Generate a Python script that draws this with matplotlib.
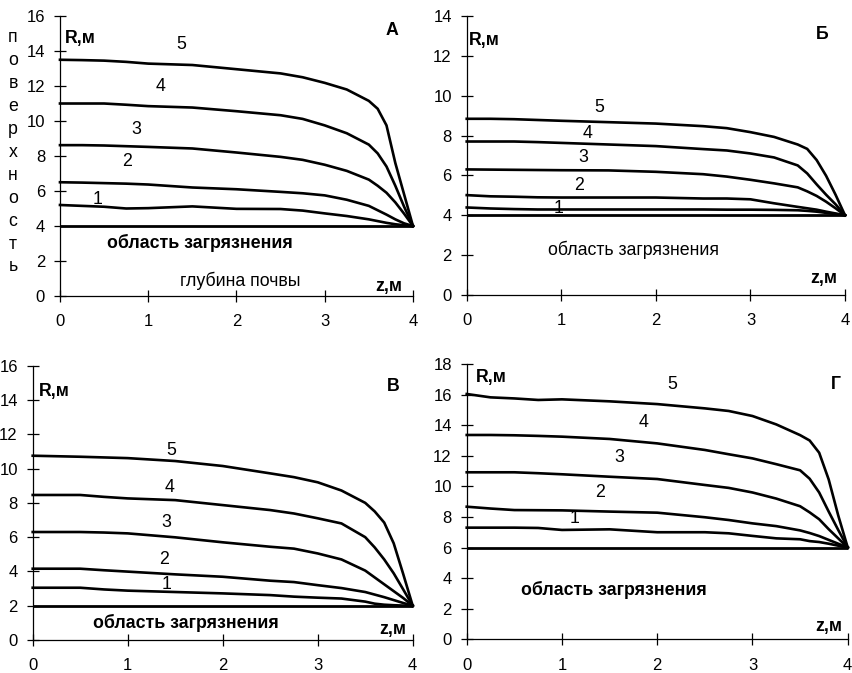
import matplotlib
matplotlib.use("Agg")
import matplotlib.pyplot as plt

plt.rcParams['font.family'] = ['Liberation Sans', 'DejaVu Sans']

# depth grid, m
z = [0, 0.25, 0.5, 0.75, 1.0, 1.5, 2.0, 2.5, 2.75, 3.0, 3.25, 3.5, 3.6, 3.7, 3.8, 3.9, 4.0]

# panel А: contamination boundary radius R(z), curves 1..5
a_base = 4
a_r1 = [5.2, 5.15, 5.1, 5.0, 5.02, 5.12, 4.98, 4.97, 4.88, 4.72, 4.57, 4.38, 4.28, 4.18, 4.1, 4.04, 4.0]
a_r2 = [6.5, 6.48, 6.45, 6.42, 6.37, 6.2, 6.1, 5.95, 5.87, 5.75, 5.5, 5.15, 4.9, 4.65, 4.38, 4.15, 4.0]
a_r3 = [8.62, 8.62, 8.6, 8.56, 8.52, 8.43, 8.2, 7.95, 7.78, 7.5, 7.15, 6.65, 6.3, 5.9, 5.35, 4.7, 4.0]
a_r4 = [11.0, 11.0, 11.0, 10.93, 10.85, 10.77, 10.56, 10.33, 10.12, 9.75, 9.3, 8.65, 8.15, 7.4, 6.3, 5.1, 4.0]
a_r5 = [13.5, 13.48, 13.45, 13.38, 13.28, 13.2, 12.96, 12.72, 12.5, 12.18, 11.8, 11.15, 10.7, 9.75, 7.6, 5.8, 4.0]

# panel Б
b_base = 4
b_r1 = [4.39, 4.34, 4.31, 4.29, 4.29, 4.29, 4.29, 4.29, 4.28, 4.28, 4.27, 4.25, 4.22, 4.18, 4.12, 4.06, 4.0]
b_r2 = [5.01, 4.95, 4.93, 4.9, 4.89, 4.89, 4.89, 4.84, 4.84, 4.8, 4.6, 4.42, 4.35, 4.28, 4.18, 4.09, 4.0]
b_r3 = [6.3, 6.29, 6.28, 6.27, 6.26, 6.25, 6.18, 6.06, 5.94, 5.78, 5.6, 5.4, 5.2, 4.97, 4.68, 4.35, 4.0]
b_r4 = [7.7, 7.7, 7.7, 7.67, 7.63, 7.55, 7.47, 7.32, 7.25, 7.1, 6.9, 6.5, 6.1, 5.55, 5.03, 4.55, 4.0]
b_r5 = [8.84, 8.84, 8.82, 8.78, 8.74, 8.67, 8.6, 8.47, 8.37, 8.17, 7.93, 7.55, 7.33, 6.77, 5.98, 5.03, 4.0]

# panel В
v_base = 2
v_r1 = [3.05, 3.05, 3.05, 2.95, 2.88, 2.8, 2.72, 2.62, 2.53, 2.47, 2.42, 2.24, 2.12, 2.06, 2.03, 2.01, 2.0]
v_r2 = [4.16, 4.16, 4.16, 4.07, 3.99, 3.83, 3.69, 3.46, 3.38, 3.2, 3.03, 2.8, 2.65, 2.5, 2.33, 2.16, 2.0]
v_r3 = [6.3, 6.3, 6.3, 6.27, 6.22, 5.99, 5.7, 5.44, 5.33, 5.05, 4.7, 4.05, 3.65, 3.25, 2.85, 2.45, 2.0]
v_r4 = [8.46, 8.46, 8.46, 8.35, 8.26, 8.16, 7.87, 7.58, 7.38, 7.1, 6.8, 6.0, 5.4, 4.7, 3.89, 2.95, 2.0]
v_r5 = [10.75, 10.72, 10.69, 10.65, 10.61, 10.44, 10.15, 9.72, 9.5, 9.2, 8.72, 8.0, 7.5, 6.85, 5.64, 3.85, 2.0]

# panel Г
g_base = 6
g_r1 = [7.3, 7.3, 7.3, 7.28, 7.15, 7.19, 7.0, 7.0, 6.93, 6.76, 6.6, 6.54, 6.42, 6.36, 6.25, 6.12, 6.0]
g_r2 = [8.67, 8.55, 8.45, 8.44, 8.43, 8.35, 8.28, 7.98, 7.8, 7.58, 7.4, 7.12, 6.95, 6.75, 6.5, 6.25, 6.0]
g_r3 = [10.92, 10.92, 10.92, 10.86, 10.79, 10.63, 10.48, 10.09, 9.9, 9.6, 9.2, 8.7, 8.3, 7.85, 7.2, 6.6, 6.0]
g_r4 = [13.36, 13.36, 13.34, 13.3, 13.25, 13.1, 12.81, 12.38, 12.1, 11.83, 11.45, 11.05, 10.5, 9.6, 8.35, 7.15, 6.0]
g_r5 = [16.04, 15.82, 15.75, 15.65, 15.69, 15.56, 15.38, 15.1, 14.93, 14.6, 14.05, 13.35, 13.0, 12.2, 10.45, 8.1, 6.0]

curve_labels = ['1', '2', '3', '4', '5']
x_ticks = [0, 1, 2, 3, 4]

FS_TICK = 12
FS = 12.8

fig = plt.figure(figsize=(8.52, 6.73), dpi=100)
fig.patch.set_facecolor('white')


def make_panel(rect, ymax, base, curves, letter, letter_xy, r_xy, num_xy,
               area_xy, area_bold, zm_xy):
    ax = fig.add_axes(rect)
    ax.set_xlim(0, 4)
    ax.set_ylim(0, ymax)
    for s in ('top', 'right'):
        ax.spines[s].set_visible(False)
    for s in ('left', 'bottom'):
        ax.spines[s].set_linewidth(0.9)
    ax.set_xticks(x_ticks)
    ax.set_yticks(list(range(0, ymax + 1, 2)))
    ax.tick_params(axis='x', direction='inout', length=8.5, width=0.9,
                   pad=9, labelsize=FS_TICK)
    ax.tick_params(axis='y', direction='inout', length=8.5, width=0.9,
                   pad=6.5, labelsize=FS_TICK)
    ax.plot([z[0], z[-1]], [base, base], color='black', lw=2.0,
            clip_on=False, solid_capstyle='butt')
    for r in curves:
        ax.plot(z, r, color='black', lw=1.9, clip_on=False,
                solid_joinstyle='round')
    ax.text(r_xy[0], r_xy[1], 'R,м', fontsize=FS, fontweight='bold',
            ha='left', va='center')
    ax.text(letter_xy[0], letter_xy[1], letter, fontsize=FS,
            fontweight='bold', ha='center', va='center')
    for lab, (tx, ty) in zip(curve_labels, num_xy):
        ax.text(tx, ty, lab, fontsize=FS, ha='center', va='center')
    ax.text(area_xy[0], area_xy[1], 'область загрязнения', fontsize=FS,
            fontweight='bold' if area_bold else 'normal',
            ha='center', va='center')
    ax.text(zm_xy[0], zm_xy[1], 'z,м', fontsize=FS, fontweight='bold',
            ha='center', va='center')
    return ax


ax_a = make_panel([0.0704, 0.5602, 0.4143, 0.4160], 16, a_base,
                  [a_r1, a_r2, a_r3, a_r4, a_r5], 'А', (3.76, 15.2),
                  (0.05, 14.7),
                  [(0.43, 5.54), (0.76, 7.66), (0.86, 9.49), (1.14, 12.0), (1.37, 14.4)],
                  (1.59, 3.03), True, (3.72, 0.57))
ax_a.text(2.04, 0.86, 'глубина почвы', fontsize=FS, ha='center', va='center')

make_panel([0.5478, 0.5617, 0.4440, 0.4146], 14, b_base,
           [b_r1, b_r2, b_r3, b_r4, b_r5], 'Б', (3.76, 13.05),
           (0.02, 12.75),
           [(0.97, 4.36), (1.19, 5.47), (1.23, 6.92), (1.28, 8.08), (1.40, 9.43)],
           (1.76, 2.26), False, (3.77, 0.85))

make_panel([0.0384, 0.0490, 0.4460, 0.4076], 16, v_base,
           [v_r1, v_r2, v_r3, v_r4, v_r5], 'В', (3.79, 14.76),
           (0.06, 14.47),
           [(1.41, 3.21), (1.38, 4.67), (1.41, 6.83), (1.44, 8.87), (1.46, 11.08)],
           (1.61, 0.99), True, (3.79, 0.64))

make_panel([0.5478, 0.0501, 0.4472, 0.4090], 18, g_base,
           [g_r1, g_r2, g_r3, g_r4, g_r5], 'Г', (3.88, 16.63),
           (0.10, 17.15),
           [(1.13, 7.93), (1.40, 9.57), (1.60, 11.86), (1.86, 14.15), (2.16, 16.63)],
           (1.55, 3.22), True, (3.80, 0.86))

# vertical caption "поверхность", one letter per line
word = 'поверхность'
top_px, step_px = 38, 22.9
for i, ch in enumerate(word):
    fig.text(13 / 852, 1 - (top_px + i * step_px) / 673, ch, fontsize=FS,
             ha='center', va='center')

fig.savefig('out.png', dpi=100, facecolor='white')
